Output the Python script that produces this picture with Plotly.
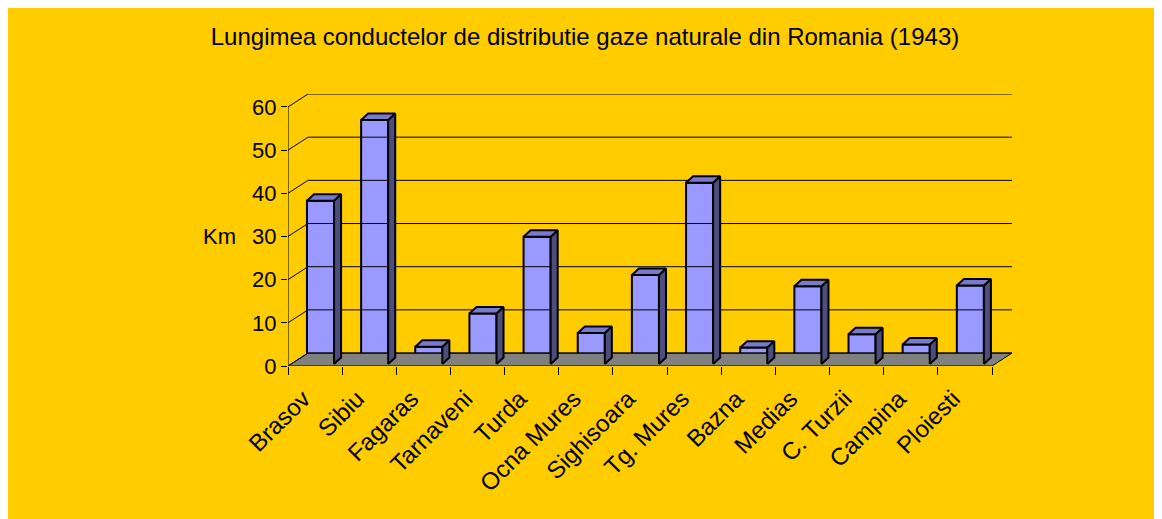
import plotly.graph_objects as go

categories = ["Brasov", "Sibiu", "Fagaras", "Tarnaveni", "Turda", "Ocna Mures",
              "Sighisoara", "Tg. Mures", "Bazna", "Medias", "C. Turzii", "Campina", "Ploiesti"]
values_km = [37.8, 56.5, 4.0, 11.7, 29.5, 7.2, 20.6, 42.0, 3.8, 18.0, 6.9, 4.5, 18.2]
y_ticks = [0, 10, 20, 30, 40, 50, 60]
title_text = "Lungimea conductelor de distributie gaze naturale din Romania (1943)"
y_label = "Km"

FONT = "Liberation Sans, Arial, sans-serif"
n = len(categories)
DX, DY = 0.369, 3.0     # floor depth (data units)
FX, FY = 0.10, 0.46     # front-face offset inside depth
BX, BY = 0.13, 1.5      # bar depth
W = 0.5                 # bar width
LABEL_SHIFT = -0.22     # category label anchor relative to category centre

fig = go.Figure()
x0, x1 = -0.5, n - 0.5

# floor
fig.add_trace(go.Scatter(x=[x0, x1, x1 + DX, x0 + DX, x0], y=[0, 0, DY, DY, 0],
                         fill="toself", fillcolor="#808080", mode="lines",
                         line=dict(color="black", width=1), hoverinfo="skip", showlegend=False))
# walls: diagonals + back gridlines + front axis line
gx, gy = [], []
for v in y_ticks:
    gx += [x0, x0 + DX, x1 + DX, None]
    gy += [v, v + DY, v + DY, None]
gx += [x0, x0, None]
gy += [0, max(y_ticks), None]
fig.add_trace(go.Scatter(x=gx, y=gy, mode="lines", line=dict(color="black", width=1),
                         hoverinfo="skip", showlegend=False))

# side and top faces
sx, sy, tx, ty = [], [], [], []
for i, v in enumerate(values_km):
    xl = i - W / 2 + FX
    xr = xl + W
    yb, yt = FY, FY + v
    sx += [xr, xr + BX, xr + BX, xr, xr, None]
    sy += [yb, yb + BY, yt + BY, yt, yb, None]
    tx += [xl, xr, xr + BX, xl + BX, xl, None]
    ty += [yt, yt, yt + BY, yt + BY, yt, None]
fig.add_trace(go.Scatter(x=sx, y=sy, fill="toself", fillcolor="#4D4D80", mode="lines",
                         line=dict(color="black", width=2), hoverinfo="skip", showlegend=False))
fig.add_trace(go.Scatter(x=tx, y=ty, fill="toself", fillcolor="#7A7ACC", mode="lines",
                         line=dict(color="black", width=2), hoverinfo="skip", showlegend=False))

# front faces
fig.add_trace(go.Bar(x=[i + FX for i in range(n)], y=values_km, base=FY, width=W,
                     marker=dict(color="#9999FF", line=dict(color="black", width=2)),
                     showlegend=False, hovertext=categories))

fig.update_layout(
    width=1154, height=511,
    margin=dict(l=280, r=150, t=86, b=153),
    paper_bgcolor="#FFCC00", plot_bgcolor="rgba(0,0,0,0)",
    font=dict(family=FONT, color="black", size=22),
    title=dict(text=title_text, x=0.5, xref="container", xanchor="center",
               y=1 - 29 / 511, yref="container", yanchor="middle",
               font=dict(family=FONT, size=24, color="black")),
    showlegend=False,
    xaxis=dict(range=[x0, x1 + DX], tickvals=[i + LABEL_SHIFT for i in range(n)],
               ticktext=categories, tickangle=-45, ticks="", showgrid=False,
               zeroline=False, showline=False, ticklabelstandoff=13,
               tickfont=dict(size=24),
               minor=dict(tickvals=[i - 0.5 for i in range(n + 1)], ticks="outside",
                          ticklen=8, tickcolor="black", tickwidth=1, showgrid=False)),
    yaxis=dict(range=[0, 63], tickvals=y_ticks, ticks="outside", ticklen=6,
               tickcolor="black", showgrid=False, zeroline=False, showline=False,
               tickfont=dict(size=22)),
    annotations=[dict(text=y_label, xref="paper", yref="y", x=0, y=30, xanchor="right",
                      yanchor="middle", xshift=-50, showarrow=False,
                      font=dict(family=FONT, size=22, color="black"))],
)

fig.write_html("out.html")
